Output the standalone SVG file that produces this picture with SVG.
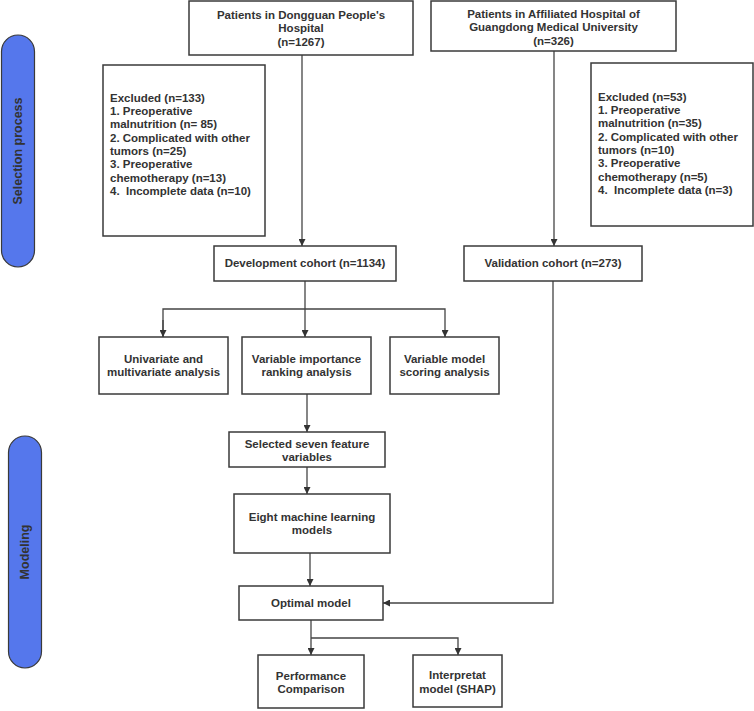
<svg xmlns="http://www.w3.org/2000/svg" width="754" height="711" viewBox="0 0 754 711">
<style>
.box{fill:#fff;stroke:#3a3a3a;stroke-width:1.5}
.t{font-family:"Liberation Sans",Arial,sans-serif;font-size:11.5px;font-weight:bold;fill:#333}
.c{text-anchor:middle}
.pill{fill:#5577EC;stroke:#3a3a3a;stroke-width:1.2}
.pt{font-family:"Liberation Sans",Arial,sans-serif;font-size:12.5px;font-weight:bold;fill:#333;text-anchor:middle}
.ln{fill:none;stroke:#444;stroke-width:1.3}
</style>
<defs>
<marker id="ah" viewBox="0 0 10 10" refX="10" refY="5" markerWidth="7" markerHeight="7" markerUnits="userSpaceOnUse" orient="auto">
<path d="M0,0 L10,5 L0,10 z" fill="#333"/>
</marker>
</defs>
<g id="side-selection">
<rect class="pill" x="1.5" y="35" width="33" height="232" rx="16.5"/>
<text class="pt" transform="translate(22,151) rotate(-90)">Selection process</text>
</g>
<g id="side-modeling">
<rect class="pill" x="8.5" y="436" width="33" height="232" rx="16.5"/>
<text class="pt" transform="translate(29,552) rotate(-90)">Modeling</text>
</g>
<g id="connectors">
<line class="ln" x1="302" y1="55" x2="302" y2="246" marker-end="url(#ah)"/>
<line class="ln" x1="554" y1="51" x2="554" y2="246" marker-end="url(#ah)"/>
<line class="ln" x1="305" y1="281" x2="305" y2="337" marker-end="url(#ah)"/>
<polyline class="ln" points="163,337 163,309 445,309 445,337" marker-end="url(#ah)"/>
<line class="ln" x1="163" y1="320" x2="163" y2="337" marker-end="url(#ah)"/>
<line class="ln" x1="307" y1="394" x2="307" y2="432" marker-end="url(#ah)"/>
<line class="ln" x1="307" y1="467" x2="307" y2="494" marker-end="url(#ah)"/>
<line class="ln" x1="310" y1="553" x2="310" y2="586" marker-end="url(#ah)"/>
<polyline class="ln" points="553,281 553,603 383,603" marker-end="url(#ah)"/>
<line class="ln" x1="311" y1="620" x2="311" y2="655" marker-end="url(#ah)"/>
<polyline class="ln" points="311,638 458,638 458,655" marker-end="url(#ah)"/>
</g>
<g id="dongguan">
<rect class="box" x="189" y="1" width="224" height="54"/>
<text class="t c" x="301" y="19">Patients in Dongguan People's</text>
<text class="t c" x="301" y="32">Hospital</text>
<text class="t c" x="301" y="46">(n=1267)</text>
</g>
<g id="affiliated">
<rect class="box" x="431" y="1" width="245" height="50"/>
<text class="t c" x="553.5" y="18">Patients in Affiliated Hospital of</text>
<text class="t c" x="553.5" y="31">Guangdong Medical University</text>
<text class="t c" x="553.5" y="45">(n=326)</text>
</g>
<g id="excluded-left">
<rect class="box" x="103" y="65" width="162" height="171"/>
<text class="t" x="110" y="102">Excluded (n=133)</text>
<text class="t" x="110" y="115">1. Preoperative</text>
<text class="t" x="110" y="128">malnutrition (n= 85)</text>
<text class="t" x="110" y="142">2. Complicated with other</text>
<text class="t" x="110" y="155">tumors (n=25)</text>
<text class="t" x="110" y="168">3. Preoperative</text>
<text class="t" x="110" y="182">chemotherapy (n=13)</text>
<text class="t" x="110" y="195" xml:space="preserve">4.  Incomplete data (n=10)</text>
</g>
<g id="excluded-right">
<rect class="box" x="591" y="63" width="162" height="163"/>
<text class="t" x="598" y="101">Excluded (n=53)</text>
<text class="t" x="598" y="114">1. Preoperative</text>
<text class="t" x="598" y="127">malnutrition (n=35)</text>
<text class="t" x="598" y="141">2. Complicated with other</text>
<text class="t" x="598" y="154">tumors (n=10)</text>
<text class="t" x="598" y="167">3. Preoperative</text>
<text class="t" x="598" y="181">chemotherapy (n=5)</text>
<text class="t" x="598" y="194" xml:space="preserve">4.  Incomplete data (n=3)</text>
</g>
<g id="development">
<rect class="box" x="214" y="246" width="182" height="35"/>
<text class="t c" x="305" y="267">Development cohort (n=1134)</text>
</g>
<g id="validation">
<rect class="box" x="464" y="246" width="178" height="35"/>
<text class="t c" x="553" y="267">Validation cohort (n=273)</text>
</g>
<g id="univariate">
<rect class="box" x="99" y="337" width="129" height="57"/>
<text class="t c" x="163.5" y="363">Univariate and</text>
<text class="t c" x="163.5" y="376">multivariate analysis</text>
</g>
<g id="importance">
<rect class="box" x="242" y="337" width="129" height="57"/>
<text class="t c" x="306.5" y="363">Variable importance</text>
<text class="t c" x="306.5" y="376">ranking analysis</text>
</g>
<g id="scoring">
<rect class="box" x="390" y="337" width="109" height="57"/>
<text class="t c" x="444.5" y="363">Variable model</text>
<text class="t c" x="444.5" y="376">scoring analysis</text>
</g>
<g id="selected">
<rect class="box" x="229" y="432" width="156" height="35"/>
<text class="t c" x="307" y="448">Selected seven feature</text>
<text class="t c" x="307" y="461">variables</text>
</g>
<g id="eight">
<rect class="box" x="234" y="494" width="156" height="59"/>
<text class="t c" x="312" y="521">Eight machine learning</text>
<text class="t c" x="312" y="534">models</text>
</g>
<g id="optimal">
<rect class="box" x="239" y="586" width="144" height="34"/>
<text class="t c" x="311" y="607">Optimal model</text>
</g>
<g id="performance">
<rect class="box" x="258" y="655" width="106" height="53"/>
<text class="t c" x="311" y="680">Performance</text>
<text class="t c" x="311" y="693">Comparison</text>
</g>
<g id="interpret">
<rect class="box" x="413" y="655" width="89" height="52"/>
<text class="t c" x="457.5" y="679">Interpretat</text>
<text class="t c" x="457.5" y="693">model (SHAP)</text>
</g>
</svg>
